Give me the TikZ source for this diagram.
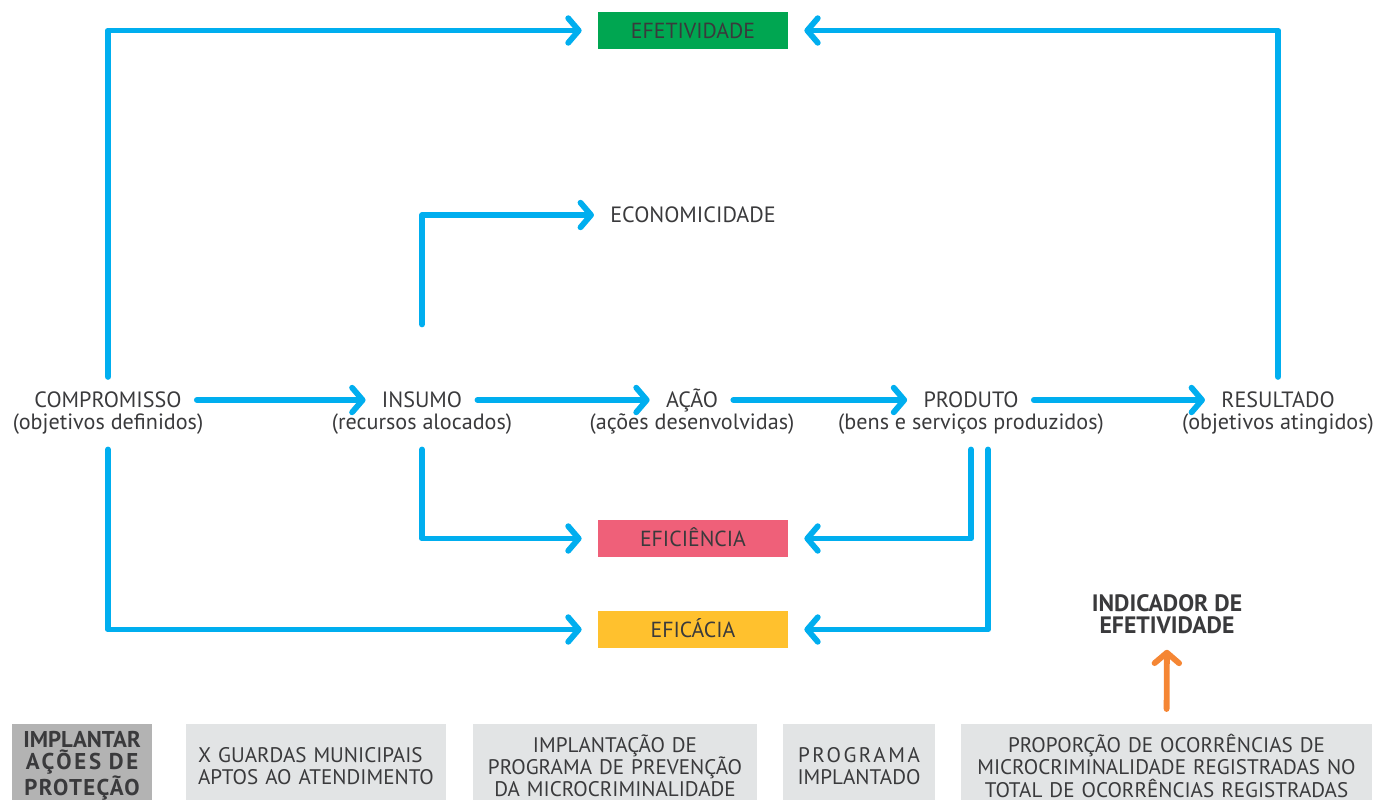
\documentclass[tikz,border=0pt]{standalone}
\usepackage{fontspec}
\setmainfont{PT Sans}
\usepackage{calc}
\usetikzlibrary{arrows.meta,positioning}
\definecolor{flowblue}{HTML}{00AEEF}
\definecolor{efetgreen}{HTML}{00A651}
\definecolor{efipink}{HTML}{EF6079}
\definecolor{eficyellow}{HTML}{FFC12E}
\definecolor{indorange}{HTML}{F58634}
\definecolor{boxgray}{HTML}{E2E4E5}
\definecolor{boxdark}{HTML}{B3B3B3}
\definecolor{inktext}{HTML}{3A3A3C}
\newcommand{\spreadto}[2]{\makebox[\widthof{#1}][s]{#2}}

\begin{document}
\begin{tikzpicture}[
  every node/.style={text=inktext},
  title/.style={font=\fontsize{12.6}{14}\selectfont, inner sep=0pt, text height=8.8pt, text depth=0pt},
  sub/.style={font=\fontsize{12.6}{14}\selectfont, inner sep=0pt, anchor=base},
  crit/.style={font=\fontsize{12.4}{14}\selectfont, inner sep=0pt, minimum width=3.8cm, minimum height=0.74cm, text height=8.7pt, text depth=0pt},
  example/.style={fill=boxgray, anchor=north, align=center, minimum height=1.66cm, inner sep=0pt, font=\fontsize{12}{12.6}\selectfont},
  arr/.style={-{Straight Barb[length=6pt,width=14pt,round]}, line width=3.3pt, draw=flowblue, line cap=round, line join=round, shorten <=0.3cm, shorten >=0.32cm}
]
\useasboundingbox (0,0) rectangle (27.54,-15.98);
\node[crit, fill=efetgreen] (efet) at (13.86,-0.61) {EFETIVIDADE};
\node[title] (econ) at (13.86,-4.3) {ECONOMICIDADE};
\node[crit, fill=efipink] (efici) at (13.86,-10.77) {EFICIÊNCIA};
\node[crit, fill=eficyellow] (eficaz) at (13.86,-12.59) {EFICÁCIA};
\node[title] (comp) at (2.16,-8.0) {COMPROMISSO};
\node[sub] (comp-s) at ([yshift=-0.43cm]comp.base) {(objetivos definidos)};
\node[title] (ins) at (8.44,-8.0) {INSUMO};
\node[sub] (ins-s) at ([yshift=-0.43cm]ins.base) {(recursos alocados)};
\node[title] (acao) at (13.84,-8.0) {AÇÃO};
\node[sub] (acao-s) at ([yshift=-0.43cm]acao.base) {(ações desenvolvidas)};
\node[title] (prod) at (19.42,-8.0) {PRODUTO};
\node[sub] (prod-s) at ([yshift=-0.43cm]prod.base) {(bens e serviços produzidos)};
\node[title] (res) at (25.56,-8.0) {RESULTADO};
\node[sub] (res-s) at ([yshift=-0.43cm]res.base) {(objetivos atingidos)};
\node[font=\bfseries\fontsize{13.5}{12.3}\selectfont, align=center, inner sep=0pt] (ind) at (23.34,-12.28) {INDICADOR DE\\EFETIVIDADE};
\node[example, fill=boxdark, text width=2.8cm, font=\bfseries\fontsize{13}{12.6}\selectfont] (comp-ex) at (1.64,-14.48) {IMPLANTAR\\{\addfontfeature{LetterSpace=12}AÇÕES DE}\\{\addfontfeature{LetterSpace=6}PROTEÇÃO}};
\node[example, text width=5.2cm] (ins-ex) at (6.32,-14.48) {\spreadto{APTOS AO ATENDIMENTO}{X GUARDAS MUNICIPAIS}\\APTOS AO ATENDIMENTO};
\node[example, text width=5.68cm] (acao-ex) at (12.3,-14.48) {IMPLANTAÇÃO DE\\PROGRAMA DE PREVENÇÃO\\DA MICROCRIMINALIDADE};
\node[example, text width=3.04cm] (prod-ex) at (17.18,-14.48) {{\addfontfeature{LetterSpace=12}PROGRAMA}\\IMPLANTADO};
\node[example, text width=8.22cm] (res-ex) at (23.33,-14.48) {PROPORÇÃO DE OCORRÊNCIAS DE\\MICROCRIMINALIDADE REGISTRADAS NO\\TOTAL DE OCORRÊNCIAS REGISTRADAS};
\draw[arr] (comp) -- (ins);
\draw[arr] (ins) -- (acao);
\draw[arr] (acao) -- (prod);
\draw[arr] (prod) -- (res);
\draw[arr] (comp.north) |- (efet.west);
\draw[arr] (res.north) |- (efet.east);
\draw[arr, shorten <=1.35cm] (ins.north) |- (econ.west);
\draw[arr] (ins-s.south) |- (efici.west);
\draw[arr] (comp-s.south) |- (eficaz.west);
\draw[arr] (prod-s.south) |- (efici.east);
\draw[arr] ([xshift=0.34cm]prod-s.south) |- (eficaz.east);
\draw[arr, draw=indorange] (res-ex.north) -- (ind.south);
\end{tikzpicture}
\end{document}
